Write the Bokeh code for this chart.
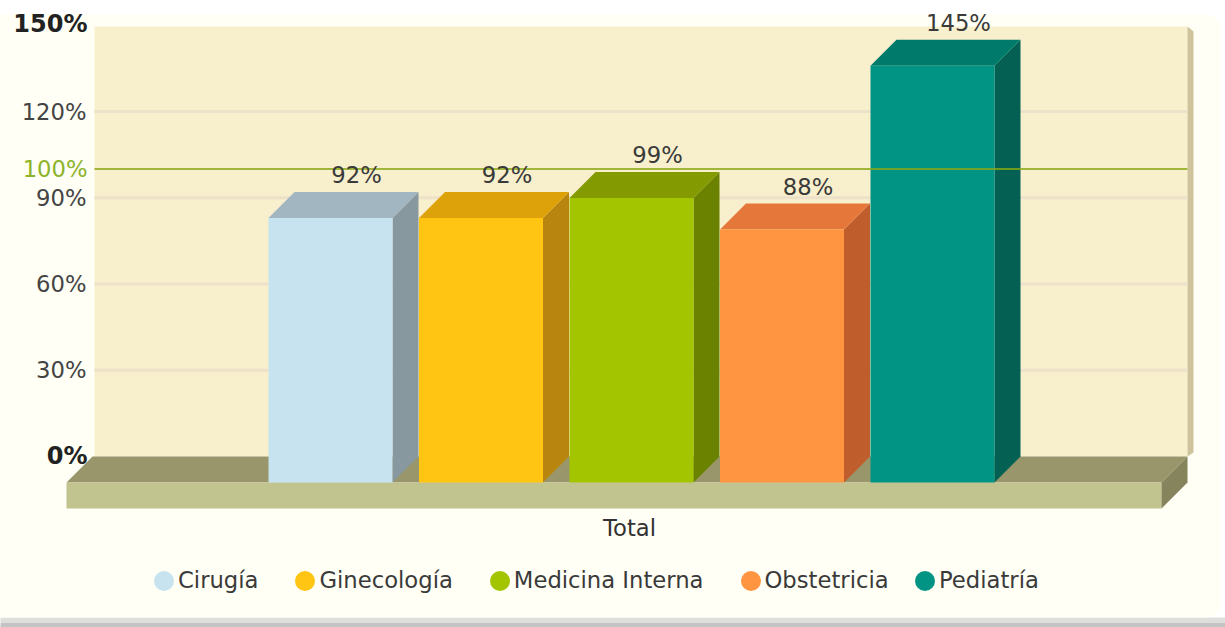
from bokeh.plotting import figure
from bokeh.models import Range1d, FixedTicker, Legend, LegendItem
from bokeh.core.properties import value
from bokeh.embed import file_html
from bokeh.resources import INLINE

categories = ["Cirugía", "Ginecología", "Medicina Interna", "Obstetricia", "Pediatría"]
values = [92, 92, 99, 88, 145]
labels = ["92%", "92%", "99%", "88%", "145%"]
front_colors = ["#C6E3EF", "#FFC512", "#A2C500", "#FF9540", "#019484"]
top_colors = ["#A2B6C2", "#DDA20A", "#839B00", "#E5773A", "#007A6A"]
side_colors = ["#87989F", "#B8860E", "#6B8100", "#BF5E2C", "#036053"]
axis_ticks = [30, 60, 90, 120]
axis_tick_labels = {30: "30%", 60: "60%", 90: "90%", 120: "120%"}
bold_ticks = [0, 150]
bold_tick_labels = ["0%", "150%"]
target_value = 100
target_label = "100%"
x_category = "Total"

FONT = "DejaVu Sans"
TS = "22.7px"
W, H = 1225, 627
PX = 2.875                  # pixels per percent
ZERO_Y = 456
DEPTH = 26
D = DEPTH / PX              # depth in percent units
BAR_W = 124
BAR_X0 = 268
BAR_STEP = 150.5
WALL_L, WALL_R = 94, 1187
FLOOR_L, FLOOR_R = 66, 1161


def py(page_y):
    return (ZERO_Y - page_y) / PX


p = figure(width=W, height=H, output_backend="svg", toolbar_location=None,
           x_range=Range1d(0, W), y_range=Range1d(py(H), py(0)),
           min_border=0, background_fill_color="#FFFFFF", border_fill_color="#FFFFFF",
           outline_line_color=None)
p.grid.visible = False

# panel with the soft shadow along its lower edge
p.quad(left=[-20], right=[1225], top=[py(622)], bottom=[py(640)], fill_color="#C4C4C4", line_color=None)
p.quad(left=[-20], right=[1225], top=[py(617)], bottom=[py(622)], fill_color="#DEDEDC", line_color=None)
p.quad(left=[-20], right=[1220], top=[py(14)], bottom=[py(617)], fill_color="#FFFFF5",
       line_color=None, border_radius=14)

# wall
p.quad(left=[WALL_L], right=[WALL_R], top=[py(26)], bottom=[0], fill_color="#F8EFCC", line_color=None)
p.patch([WALL_R, WALL_R + 6, WALL_R + 6, WALL_R], [py(26), py(31), py(452), py(456)],
        fill_color="#CFC39C", line_color=None)
# grid
p.segment(x0=[WALL_L] * len(axis_ticks), x1=[WALL_R] * len(axis_ticks), y0=axis_ticks, y1=axis_ticks,
          line_color="#EDE1C9", line_width=3)

# floor
p.patch([FLOOR_L, FLOOR_L + DEPTH, FLOOR_R + DEPTH, FLOOR_R], [-D, 0, 0, -D], fill_color="#99966B", line_color=None)
p.quad(left=[FLOOR_L], right=[FLOOR_R], top=[-D], bottom=[-2 * D], fill_color="#C2C48F", line_color=None)
p.patch([FLOOR_R, FLOOR_R + DEPTH, FLOOR_R + DEPTH, FLOOR_R], [-D, 0, -D, -2 * D], fill_color="#85845C", line_color=None)

# bars
lefts = [BAR_X0 + i * BAR_STEP for i in range(len(values))]
for l, v, fc, tc, sc in zip(lefts, values, front_colors, top_colors, side_colors):
    r = l + BAR_W
    p.patch([r, r + DEPTH, r + DEPTH, r], [-D, 0, v, v - D], fill_color=sc, line_color=None)
    p.patch([l, l + DEPTH, r + DEPTH, r], [v - D, v, v, v - D], fill_color=tc, line_color=None)
    p.quad(left=[l], right=[r], top=[v - D], bottom=[-D], fill_color=fc, line_color=None)

# 100% line
p.line([WALL_L, WALL_R], [target_value, target_value], line_color="#8AA815", line_width=2, line_alpha=0.8)

# value labels
p.text(x=[l + BAR_W / 2 + DEPTH for l in lefts], y=values, text=labels, text_font=value(FONT),
       text_font_size=TS, text_color="#3A3A3A", text_align="center", text_baseline="bottom", y_offset=-4)

# bold and coloured tick labels
p.text(x=[87] * 2, y=bold_ticks, text=bold_tick_labels, text_font=value(FONT), text_font_style="bold",
       text_font_size="24px", text_color="#222222", text_align="right", text_baseline="middle", y_offset=-1)
p.text(x=[87], y=[target_value], text=[target_label], text_font=value(FONT),
       text_font_size=TS, text_color="#8DB32B", text_align="right", text_baseline="middle")

# axes drawn inside the frame
ya = p.yaxis[0]
ya.ticker = FixedTicker(ticks=axis_ticks)
ya.major_label_overrides = axis_tick_labels
ya.major_label_standoff = -92
ya.major_tick_line_color = None
ya.minor_tick_line_color = None
ya.axis_line_color = None
ya.major_label_text_font = FONT
ya.major_label_text_font_size = TS
ya.major_label_text_color = "#444444"

xc = 629
xa = p.xaxis[0]
xa.ticker = FixedTicker(ticks=[xc])
xa.major_label_overrides = {xc: x_category}
xa.major_label_standoff = -119
xa.major_tick_line_color = None
xa.minor_tick_line_color = None
xa.axis_line_color = None
xa.major_label_text_font = FONT
xa.major_label_text_font_size = TS
xa.major_label_text_color = "#333333"

# legend
items = []
for c, fc in zip(categories, front_colors):
    r = p.circle(x=[float("nan")], y=[float("nan")], radius=1, fill_color=fc, line_color=fc, line_width=10)
    items.append(LegendItem(label=value(c), renderers=[r]))
common = dict(orientation="horizontal", glyph_width=25, glyph_height=25, label_standoff=2,
              spacing=34, padding=0, margin=0, border_line_color=None, background_fill_alpha=0,
              label_text_font=FONT, label_text_font_size=TS, label_text_color="#3A3A3A")
p.add_layout(Legend(items=items[:4], location=(151, 34), **common), "center")
p.add_layout(Legend(items=items[4:], location=(912, 34), **common), "center")

open("out.html", "w").write(file_html(p, INLINE))
